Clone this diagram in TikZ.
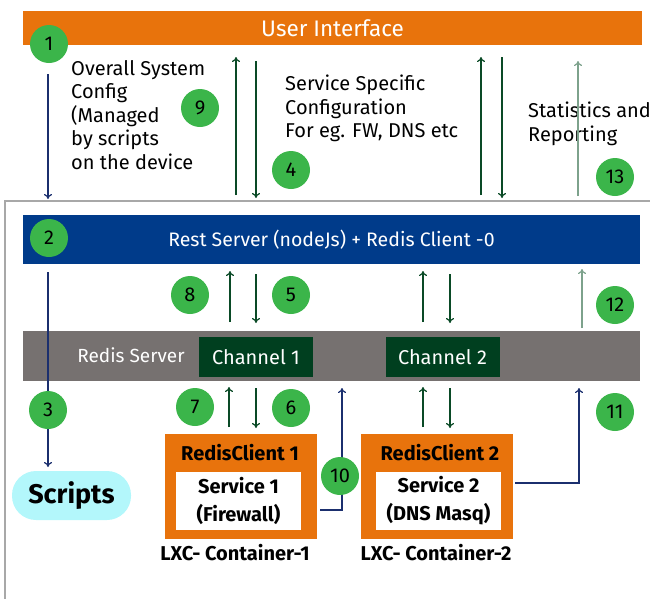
\documentclass[tikz,border=0pt]{standalone}
\usepackage{fontspec}
\setmainfont{Fira Sans}
\usetikzlibrary{arrows.meta}
\definecolor{uiorange}{HTML}{E8730C}
\definecolor{restblue}{HTML}{003B8A}
\definecolor{redisgray}{HTML}{767170}
\definecolor{chgreen}{HTML}{003F1F}
\definecolor{numgreen}{HTML}{3BB54A}
\definecolor{navyline}{HTML}{1B2F6E}
\definecolor{darkline}{HTML}{0A4A26}
\definecolor{lightline}{HTML}{7DA28C}
\definecolor{scriptcyan}{HTML}{B3F7FB}
\definecolor{bordergray}{HTML}{A8A8A8}
\begin{document}
\begin{tikzpicture}[x=1pt,y=-1pt,
  bar/.style={inner sep=0pt, text=white},
  chbox/.style={fill=chgreen, inner sep=0pt, minimum width=114pt, minimum height=40pt, text=white, font=\fontsize{20}{24}\selectfont},
  num/.style={circle, fill=numgreen, inner sep=0pt, minimum size=38pt, font=\fontsize{20}{24}\selectfont},
  cont/.style={fill=uiorange, inner sep=0pt, minimum width=152pt, minimum height=105pt},
  svc/.style={fill=white, inner sep=0pt, minimum width=125pt, minimum height=58pt, align=center, font=\bfseries\fontsize{20}{28}\selectfont},
  boldlbl/.style={inner sep=0pt, font=\bfseries\fontsize{20}{24}\selectfont},
  note/.style={inner sep=0pt, anchor=north west, align=left, font=\fontsize{20}{23.5}\selectfont},
  tip/.style={-{To[length=5pt,width=8pt,line width=1.2pt]}},
  navyarrow/.style={tip, draw=navyline, line width=2.2pt},
  darkarrow/.style={tip, draw=darkline, line width=2.2pt},
  lightarrow/.style={tip, draw=lightline, line width=2.2pt}
]
\useasboundingbox (0,0) rectangle (650,598);

% outer border
\draw[bordergray, line width=1.5pt] (652,201) -- (5,201) -- (5,600);

% bars
\node[bar, fill=uiorange, minimum width=619pt, minimum height=34pt, font=\fontsize{22.5}{26}\selectfont] (ui) at (332.5,28) {User Interface};
\node[bar, fill=restblue, minimum width=617pt, minimum height=49pt, font=\fontsize{19.5}{23}\selectfont] (rest) at (331.5,239.5) {Rest Server (nodeJs) + Redis Client -0};
\node[bar, fill=redisgray, minimum width=617pt, minimum height=50pt] (redis) at (331.5,356) {};
\node[inner sep=0pt, text=white, font=\fontsize{19}{23}\selectfont] (redislbl) at (131,355) {Redis Server};
\node[chbox] (ch1) at (256,357) {Channel 1};
\node[chbox] (ch2) at (442.5,357) {Channel 2};

% texts
\node[note] (t1) at (71,60) {Overall System\\Config\\(Managed\\by scripts\\on the device};
\node[note] (t2) at (285,75) {Service Specific\\Configuration\\For eg. FW, DNS etc};
\node[note] (t3) at (528,102) {Statistics and\\Reporting};

% containers
\node[cont] (c1) at (241,486.5) {};
\node[svc] (s1) at (238.5,501) {Service 1\\(Firewall)};
\node[boldlbl] (rc1) at (240,453) {RedisClient 1};
\node[boldlbl] (lxc1) at (235,553) {LXC- Container-1};
\node[cont] (c2) at (437,486.5) {};
\node[svc] (s2) at (438.5,501) {Service 2\\(DNS Masq)};
\node[boldlbl] (rc2) at (440,453) {RedisClient 2};
\node[boldlbl] (lxc2) at (436,553) {LXC- Container-2};

% scripts
\node[fill=scriptcyan, rounded corners=24pt, minimum width=119pt, minimum height=49pt, inner sep=0pt, font=\bfseries\fontsize{27}{32}\selectfont] (scripts) at (71.5,495.5) {Scripts};

% coordinates
\coordinate (a1s) at (48,74);   \coordinate (a1e) at (48,199);
\coordinate (a3s) at (48,272);  \coordinate (a3e) at (48,467);
\coordinate (u1s) at (236,195); \coordinate (u1e) at (236,57);
\coordinate (d1s) at (256,61);  \coordinate (d1e) at (256,198);
\coordinate (u2s) at (481,195); \coordinate (u2e) at (481,57);
\coordinate (d2s) at (502,57);  \coordinate (d2e) at (502,198);
\coordinate (l1s) at (578,196); \coordinate (l1e) at (578,61);
\coordinate (u3s) at (230,322); \coordinate (u3e) at (230,271);
\coordinate (d3s) at (256,274); \coordinate (d3e) at (256,323);
\coordinate (u4s) at (423,322); \coordinate (u4e) at (423,271);
\coordinate (d4s) at (450,274); \coordinate (d4e) at (450,323);
\coordinate (l2s) at (582,328); \coordinate (l2e) at (582,269);
\coordinate (u5s) at (229,427); \coordinate (u5e) at (229,387);
\coordinate (d5s) at (256,388); \coordinate (d5e) at (256,428);
\coordinate (u6s) at (423,427); \coordinate (u6e) at (423,387);
\coordinate (d6s) at (450,388); \coordinate (d6e) at (450,428);
\coordinate (a10s) at (320,510); \coordinate (a10e) at (342,388);
\coordinate (a11s) at (515,483); \coordinate (a11e) at (579,388);

% arrows
\draw[navyarrow] (a1s) -- (a1e);
\draw[navyarrow] (a3s) -- (a3e);
\draw[darkarrow] (u1s) -- (u1e);
\draw[darkarrow] (d1s) -- (d1e);
\draw[darkarrow] (u2s) -- (u2e);
\draw[darkarrow] (d2s) -- (d2e);
\draw[lightarrow] (l1s) -- (l1e);
\draw[darkarrow] (u3s) -- (u3e);
\draw[darkarrow] (d3s) -- (d3e);
\draw[darkarrow] (u4s) -- (u4e);
\draw[darkarrow] (d4s) -- (d4e);
\draw[lightarrow] (l2s) -- (l2e);
\draw[darkarrow] (u5s) -- (u5e);
\draw[darkarrow] (d5s) -- (d5e);
\draw[darkarrow] (u6s) -- (u6e);
\draw[darkarrow] (d6s) -- (d6e);
\draw[navyarrow] (a10s) -| (a10e);
\draw[navyarrow] (a11s) -| (a11e);

% number circles
\node[num] (n1) at (49,44) {1};
\node[num] (n2) at (49,238) {2};
\node[num] (n3) at (48,410) {3};
\node[num] (n4) at (291,170) {4};
\node[num] (n5) at (291,295) {5};
\node[num] (n6) at (291,408) {6};
\node[num] (n7) at (195,407) {7};
\node[num] (n8) at (190,295) {8};
\node[num] (n9) at (200,108) {9};
\node[num] (n10) at (340,476) {10};
\node[num] (n11) at (615,412) {11};
\node[num] (n12) at (615,305) {12};
\node[num] (n13) at (615,177) {13};
\end{tikzpicture}
\end{document}
